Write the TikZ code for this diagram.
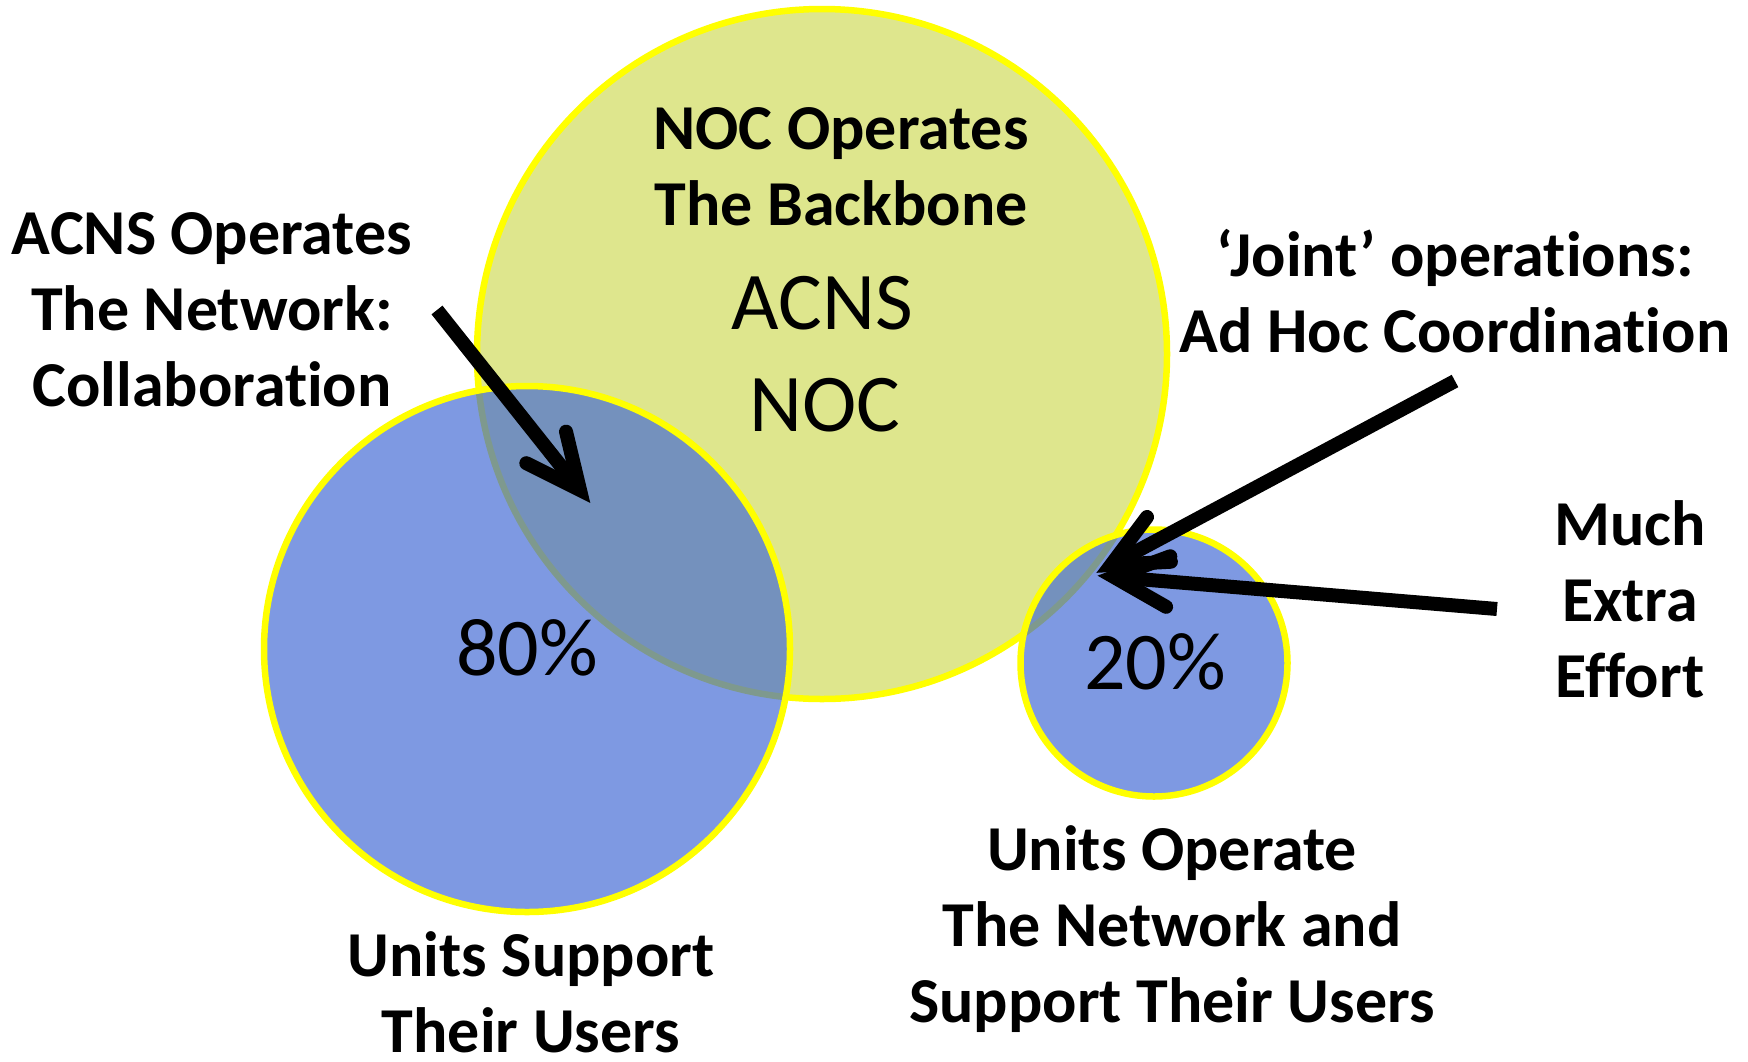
\documentclass[tikz,border=0pt]{standalone}
\usepackage{fontspec}
\setmainfont{Carlito}[Ligatures=NoCommon]
\usetikzlibrary{calc}
\definecolor{bigfill}{RGB}{222,230,141}
\definecolor{bluefill}{RGB}{64,104,213}
\definecolor{ringyellow}{RGB}{255,255,0}
\begin{document}
\begin{tikzpicture}[x=1pt,y=-1pt,
  ring/.style={circle, draw=ringyellow, line width=6.5pt, inner sep=0pt, minimum size=#1},
  bigdisc/.style={ring=#1, fill=bigfill},
  bluedisc/.style={ring=#1, fill=bluefill, fill opacity=0.67, draw opacity=1},
  lbl/.style={align=center, anchor=base, inner sep=0pt, font=\bfseries\fontsize{64}{76}\selectfont},
  big/.style={align=center, anchor=base, inner sep=0pt, font=\fontsize{82}{102}\selectfont},
  shaft/.style={line width=14pt, line cap=butt},
  barb/.style={line width=14pt, line cap=round, line join=miter},
]
\useasboundingbox (0,0) rectangle (1748,1061);
\fill[white] (0,0) rectangle (1748,1061);

% circles
\node[bigdisc=690pt] (noc) at (822,354) {};
\node[bluedisc=526pt] (units) at (527,649) {};
\node[bluedisc=267pt] (joint) at (1154,663) {};

% texts (anchor = baseline of the last line)
\node[lbl] (noclbl) at (841,225) {NOC Operates\\The Backbone};
\node[big] (acns) at (822,329) {ACNS};
\node[big] (nocin) at (825,431) {NOC};
\node[lbl] (collab) at (212,406) {ACNS Operates\\The Network:\\Collaboration};
\node[lbl] (adhoc) at (1455,352) {‘Joint’ operations:\\Ad Hoc Coordination};
\node[lbl] (extra) at (1630,697) {Much\\Extra\\Effort};
\node[big] (p80) at (527,675) {80\%};
\node[big] (p20) at (1155,689) {20\%};
\node[lbl] (unitsop) at (1172,1022) {Units Operate\\The Network and\\Support Their Users};
\node[lbl] (unitssup) at (531,1052) {Units Support\\Their Users};

% arrows
\coordinate (a1s) at (437,310);
\coordinate (a1t) at (580,490);
\coordinate (a2s) at (1455,381);
\coordinate (a2t) at (1111,565);
\coordinate (a3s) at (1497,609);
\coordinate (a3t) at (1114,577);

\foreach \s/\t in {a1s/a1t, a2s/a2t, a3s/a3t}{
  \draw[shaft] (\s) -- (\t);
  \draw[barb] ($(\t)!60pt!25:(\s)$) -- (\t) -- ($(\t)!60pt!-25:(\s)$);
}
\end{tikzpicture}
\end{document}
